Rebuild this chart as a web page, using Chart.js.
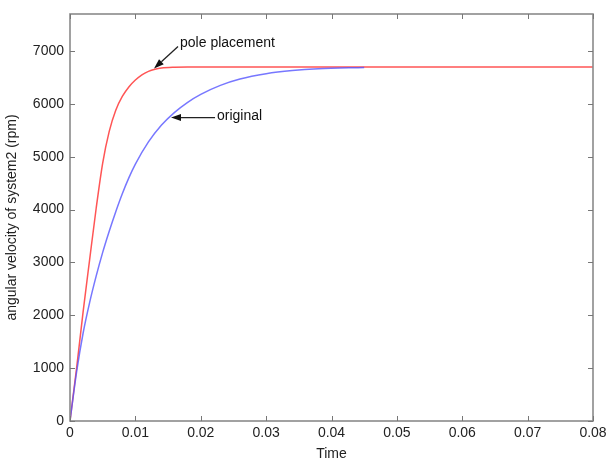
<!DOCTYPE html>
<html>
<head>
<meta charset="utf-8">
<script src="https://cdn.jsdelivr.net/npm/chart.js@4/dist/chart.umd.min.js"></script>
<style>
  html, body { margin: 0; padding: 0; background: #fff; }
  #wrap { width: 606px; height: 463px; }
</style>
</head>
<body>
<div id="wrap"><canvas id="chart" width="606" height="463"></canvas></div>
<script>
// step response, speed in rpm vs time in seconds
const poleTime = [0, 0.001, 0.002, 0.003, 0.004, 0.005, 0.006, 0.007, 0.008, 0.009, 0.010, 0.011, 0.012, 0.013, 0.014, 0.016, 0.018, 0.08];
const poleSpeed = [0, 990, 2060, 3050, 4020, 4880, 5480, 5880, 6140, 6320, 6450, 6550, 6615, 6655, 6678, 6692, 6695, 6695];

const origTime = [0, 0.001, 0.002, 0.003, 0.004, 0.005, 0.006, 0.007, 0.008, 0.009, 0.010, 0.012, 0.014, 0.016, 0.018, 0.020, 0.023, 0.026, 0.030, 0.034, 0.038, 0.045];
const origSpeed = [0, 920, 1660, 2240, 2740, 3190, 3590, 3960, 4300, 4600, 4860, 5280, 5600, 5840, 6030, 6180, 6350, 6470, 6570, 6630, 6665, 6690];

const xTicks = [0, 0.01, 0.02, 0.03, 0.04, 0.05, 0.06, 0.07, 0.08];
const yTicks = [0, 1000, 2000, 3000, 4000, 5000, 6000, 7000];

const toPoints = (xs, ys) => xs.map((x, i) => ({ x, y: ys[i] }));

Chart.defaults.font.family = '"Liberation Sans", Arial, sans-serif';
Chart.defaults.font.size = 14;
Chart.defaults.color = '#222';

// box around the plot plus inward tick marks, and the two arrow notes
const frame = {
  id: 'frame',
  afterDatasetsDraw(chart) {
    const { ctx, chartArea: a, scales } = chart;
    const xs = scales.x, ys = scales.y;
    ctx.save();
    ctx.strokeStyle = '#8a8a8a';
    ctx.lineWidth = 1.6;
    ctx.strokeRect(a.left, a.top, a.right - a.left, a.bottom - a.top);
    ctx.lineWidth = 1;
    ctx.strokeStyle = '#777';
    ctx.beginPath();
    xs.ticks.forEach((t, i) => {
      const px = Math.round(xs.getPixelForTick(i)) + 0.5;
      ctx.moveTo(px, a.bottom); ctx.lineTo(px, a.bottom - 5);
      ctx.moveTo(px, a.top); ctx.lineTo(px, a.top + 5);
    });
    ys.ticks.forEach((t, i) => {
      const py = Math.round(ys.getPixelForTick(i)) + 0.5;
      ctx.moveTo(a.left, py); ctx.lineTo(a.left + 5, py);
      ctx.moveTo(a.right, py); ctx.lineTo(a.right - 5, py);
    });
    ctx.stroke();

    const arrow = (x0, y0, x1, y1) => {
      const ang = Math.atan2(y1 - y0, x1 - x0);
      const hl = 10, hw = 3.5;
      const bx = x1 - hl * Math.cos(ang), by = y1 - hl * Math.sin(ang);
      ctx.strokeStyle = '#222';
      ctx.lineWidth = 1.3;
      ctx.beginPath();
      ctx.moveTo(x0, y0); ctx.lineTo(bx, by);
      ctx.stroke();
      ctx.fillStyle = '#111';
      ctx.beginPath();
      ctx.moveTo(x1, y1);
      ctx.lineTo(bx + hw * Math.sin(ang), by - hw * Math.cos(ang));
      ctx.lineTo(bx - hw * Math.sin(ang), by + hw * Math.cos(ang));
      ctx.closePath();
      ctx.fill();
    };

    ctx.font = '14px "Liberation Sans", Arial, sans-serif';
    ctx.fillStyle = '#222';
    ctx.textBaseline = 'middle';
    ctx.textAlign = 'left';

    // pole placement note
    const px = xs.getPixelForValue(0.0127), py = ys.getPixelForValue(6650);
    arrow(px + 25, py - 23, px + 1, py - 1);
    ctx.fillText('pole placement', px + 27, py - 26);

    // original note
    const ox = xs.getPixelForValue(0.0153), oy = ys.getPixelForValue(5740);
    arrow(ox + 45, oy, ox + 1, oy);
    ctx.fillText('original', ox + 47, oy - 1);
    ctx.restore();
  }
};

new Chart(document.getElementById('chart'), {
  type: 'line',
  data: {
    datasets: [
      {
        label: 'original',
        data: toPoints(origTime, origSpeed),
        borderColor: 'rgba(85,85,255,0.8)',
        borderWidth: 1.5,
        pointRadius: 0,
        cubicInterpolationMode: 'monotone',
        order: 0
      },
      {
        label: 'pole placement',
        data: toPoints(poleTime, poleSpeed),
        borderColor: '#ff5555',
        borderWidth: 1.5,
        pointRadius: 0,
        cubicInterpolationMode: 'monotone',
        order: 1
      }
    ]
  },
  options: {
    responsive: false,
    animation: false,
    layout: { padding: { top: 14, right: 13, left: 0, bottom: 0 } },
    plugins: { legend: { display: false }, tooltip: { enabled: false } },
    scales: {
      x: {
        type: 'linear',
        min: 0,
        max: 0.08,
        afterBuildTicks: s => { s.ticks = xTicks.map(v => ({ value: v })); },
        afterFit: s => { s.height = 42; s.paddingLeft = 0; s.paddingRight = 0; },
        ticks: {
          padding: 4,
          callback: v => (v === 0 ? '0' : v.toFixed(2))
        },
        grid: { display: false, drawTicks: false },
        border: { display: false },
        title: { display: true, text: 'Time', padding: { top: 3, bottom: 0 } }
      },
      y: {
        type: 'linear',
        min: 0,
        max: 7700,
        afterBuildTicks: s => { s.ticks = yTicks.map(v => ({ value: v })); },
        afterFit: s => { s.width = 70; s.paddingTop = 0; s.paddingBottom = 0; },
        ticks: { padding: 6, callback: v => String(v) },
        grid: { display: false, drawTicks: false },
        border: { display: false },
        title: { display: true, text: 'angular velocity of system2 (rpm)', padding: { top: 4, bottom: 2 } }
      }
    }
  },
  plugins: [frame]
});
</script>
</body>
</html>
